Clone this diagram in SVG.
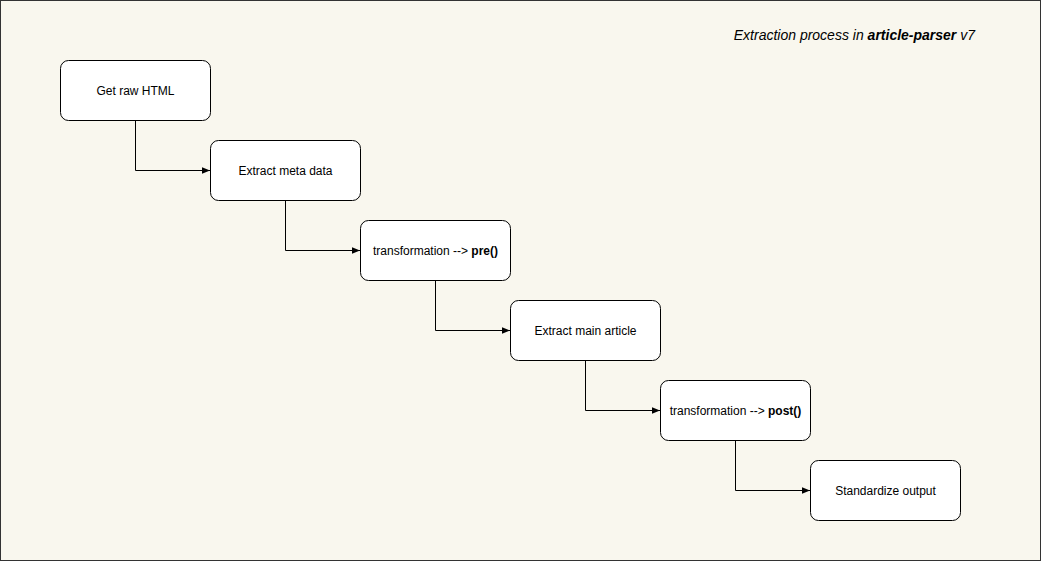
<svg xmlns="http://www.w3.org/2000/svg" width="1041" height="561" viewBox="0 0 1041 561">
<style>
.n rect{fill:#fff;stroke:#000;stroke-width:1}
.n text{font-family:"Liberation Sans",Arial,sans-serif;font-size:12px;text-anchor:middle;dominant-baseline:central;fill:#000}
.c path{fill:none;stroke:#000;stroke-width:1}
</style>
<defs><marker id="a" viewBox="0 0 10 10" refX="10" refY="5" markerWidth="8" markerHeight="8" markerUnits="userSpaceOnUse" orient="auto"><path d="M0,1 L10,5 L0,9 Z" fill="#000"/></marker></defs>
<rect x="0.5" y="0.5" width="1040" height="560" fill="#f9f7ee" stroke="#333"/>
<text x="975" y="40" text-anchor="end" font-family="Liberation Sans,Arial,sans-serif" font-size="14" font-style="italic">Extraction process in <tspan font-weight="bold">article-parser</tspan> v7</text>
<g class="c">
<path d="M135.5,120 V170.5 H210" marker-end="url(#a)"/>
<path d="M285.5,200 V250.5 H360" marker-end="url(#a)"/>
<path d="M435.5,280 V330.5 H510" marker-end="url(#a)"/>
<path d="M585.5,360 V410.5 H660" marker-end="url(#a)"/>
<path d="M735.5,440 V490.5 H810" marker-end="url(#a)"/>
</g>
<g id="n1" class="n"><rect x="60.5" y="60.5" width="150" height="60" rx="8"/><text x="135.5" y="90.5">Get raw HTML</text></g>
<g id="n2" class="n"><rect x="210.5" y="140.5" width="150" height="60" rx="8"/><text x="285.5" y="170.5">Extract meta data</text></g>
<g id="n3" class="n"><rect x="360.5" y="220.5" width="150" height="60" rx="8"/><text x="435.5" y="250.5">transformation --&gt; <tspan font-weight="bold">pre()</tspan></text></g>
<g id="n4" class="n"><rect x="510.5" y="300.5" width="150" height="60" rx="8"/><text x="585.5" y="330.5">Extract main article</text></g>
<g id="n5" class="n"><rect x="660.5" y="380.5" width="150" height="60" rx="8"/><text x="735.5" y="410.5">transformation --&gt; <tspan font-weight="bold">post()</tspan></text></g>
<g id="n6" class="n"><rect x="810.5" y="460.5" width="150" height="60" rx="8"/><text x="885.5" y="490.5">Standardize output</text></g>
</svg>
